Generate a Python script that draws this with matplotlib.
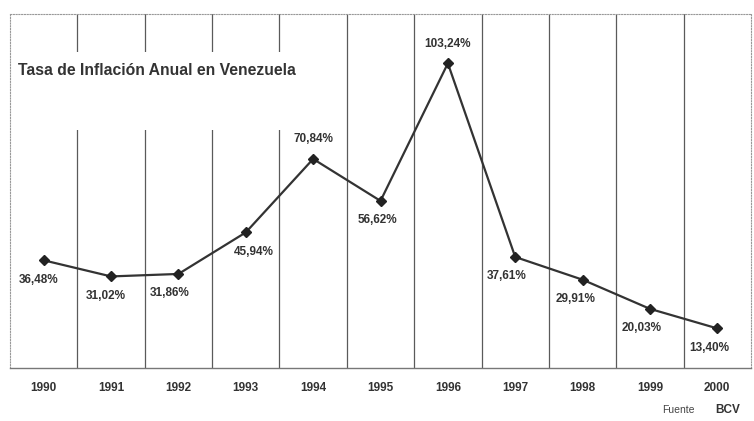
import matplotlib
matplotlib.use("Agg")
import matplotlib.pyplot as plt
from matplotlib.patches import Rectangle

years = ["1990", "1991", "1992", "1993", "1994", "1995", "1996", "1997", "1998", "1999", "2000"]
inflation = [36.48, 31.02, 31.86, 45.94, 70.84, 56.62, 103.24, 37.61, 29.91, 20.03, 13.40]
labels = ["36,48%", "31,02%", "31,86%", "45,94%", "70,84%", "56,62%", "103,24%", "37,61%", "29,91%", "20,03%", "13,40%"]
# label offsets (points): (dx, dy)
offsets = [(-4, -14), (-4, -14), (-6, -14), (6, -14), (0, 14), (-2, -14), (0, 14), (-6, -14), (-5, -14), (-6, -14), (-6, -14)]

plt.rcParams['font.family'] = ['Liberation Sans', 'DejaVu Sans']

fig = plt.figure(figsize=(7.54, 4.21), dpi=100)
ax = fig.add_axes([0.0133, 0.126, 0.9827, 0.841])
x = list(range(len(years)))

ax.set_xlim(-0.5, len(years) - 0.5)
ax.set_ylim(0, 120)

for b in range(1, len(years)):
    ax.axvline(b - 0.5, color="#5a5a5a", lw=0.9, zorder=1)

# white title box interrupting the gridlines
ax.add_patch(Rectangle((0.003, 0.672), 0.39, 0.22, transform=ax.transAxes,
                       facecolor="white", edgecolor="none", zorder=2))

ax.plot(x, inflation, color="#333333", lw=1.6, marker="D", markersize=5.5,
        markerfacecolor="#222222", markeredgecolor="#222222", zorder=3)

for xi, yi, lab, (dx, dy) in zip(x, inflation, labels, offsets):
    ax.annotate(lab, (xi, yi), xytext=(dx, dy), textcoords="offset points",
                ha="center", va="center", fontsize=8.5, fontweight="bold", color="#333333")

ax.text(0.0105, 0.84, "Tasa de Inflación Anual en Venezuela", transform=ax.transAxes,
        fontsize=11.3, fontweight="bold", color="#333333", ha="left", va="center", zorder=4)

for side in ["left", "right", "top"]:
    ax.spines[side].set_linestyle((0, (1, 1.5)))
    ax.spines[side].set_color("#999999")
    ax.spines[side].set_linewidth(0.8)
ax.spines["bottom"].set_color("#777777")
ax.spines["bottom"].set_linewidth(1.0)

ax.set_yticks([])
ax.set_xticks(x)
ax.set_xticklabels(years, fontsize=8.5, fontweight="bold", color="#333333")
ax.tick_params(axis="x", length=0, pad=10)

fig.text(0.9, 0.026, "Fuente", fontsize=7.5, color="#444444", ha="center", va="center")
fig.text(0.965, 0.026, "BCV", fontsize=8.5, fontweight="bold", color="#333333", ha="center", va="center")

fig.savefig("out.png", dpi=100)
